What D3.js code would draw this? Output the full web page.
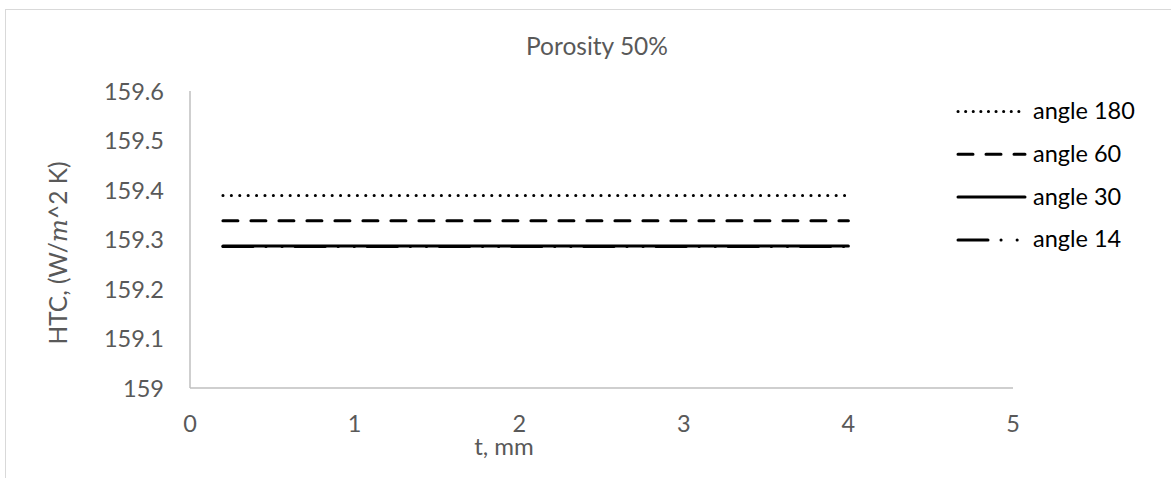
<!DOCTYPE html>
<html>
  <head>
    <meta charset="utf-8">
    <script type="text/javascript" src="https://d3js.org/d3.v7.min.js"></script>
    <style>
      body { margin: 0; background: #fff; }
      text { font-family: Lato, "Open Sans", sans-serif; }
    </style>
  </head>
  <body>
    <script type="text/javascript">
      // data
      var thickness = [0.2, 0.4, 0.6, 0.8, 1.0, 1.2, 1.4, 1.6, 1.8, 2.0, 2.2, 2.4, 2.6, 2.8, 3.0, 3.2, 3.4, 3.6, 3.8, 4.0];
      var seriesNames = ["angle 180", "angle 60", "angle 30", "angle 14"];
      var htc180 = [159.389, 159.389, 159.389, 159.389, 159.389, 159.389, 159.389, 159.389, 159.389, 159.389, 159.389, 159.389, 159.389, 159.389, 159.389, 159.389, 159.389, 159.389, 159.389, 159.389];
      var htc60 = [159.338, 159.338, 159.338, 159.338, 159.338, 159.338, 159.338, 159.338, 159.338, 159.338, 159.338, 159.338, 159.338, 159.338, 159.338, 159.338, 159.338, 159.338, 159.338, 159.338];
      var htc30 = [159.287, 159.287, 159.287, 159.287, 159.287, 159.287, 159.287, 159.287, 159.287, 159.287, 159.287, 159.287, 159.287, 159.287, 159.287, 159.287, 159.287, 159.287, 159.287, 159.287];
      var htc14 = [159.286, 159.286, 159.286, 159.286, 159.286, 159.286, 159.286, 159.286, 159.286, 159.286, 159.286, 159.286, 159.286, 159.286, 159.286, 159.286, 159.286, 159.286, 159.286, 159.286];
      var xTicks = [0, 1, 2, 3, 4, 5];
      var yTicks = [159, 159.1, 159.2, 159.3, 159.4, 159.5, 159.6];

      var width = 1171, height = 478;
      var svg = d3.select("body").append("svg")
                  .attr("width", width)
                  .attr("height", height);

      // chart area border (runs off the right and bottom)
      svg.append("rect")
         .attr("x", 5.5).attr("y", 9.5)
         .attr("width", 1200).attr("height", 500)
         .attr("fill", "none")
         .attr("stroke", "#d9d9d9");

      var x = d3.scaleLinear().domain([0, 5]).range([190, 1013]);
      var y = d3.scaleLinear().domain([159, 159.6]).range([388, 91]);

      // axes lines
      svg.append("line")
         .attr("x1", x(0)).attr("x2", x(5))
         .attr("y1", y(159)).attr("y2", y(159))
         .attr("stroke", "#bfbfbf").attr("stroke-width", 1.5);
      svg.append("line")
         .attr("x1", x(0)).attr("x2", x(0))
         .attr("y1", y(159)).attr("y2", y(159.6))
         .attr("stroke", "#bfbfbf").attr("stroke-width", 1.5);

      // tick labels
      svg.append("g").selectAll("text")
         .data(xTicks).enter().append("text")
         .attr("x", d => x(d))
         .attr("y", 432)
         .attr("text-anchor", "middle")
         .attr("fill", "#595959")
         .style("font-size", "23.5px")
         .text(d => d);
      svg.append("g").selectAll("text")
         .data(yTicks).enter().append("text")
         .attr("x", 164)
         .attr("y", d => y(d) + 8.5)
         .attr("text-anchor", "end")
         .attr("fill", "#595959")
         .style("font-size", "23.5px")
         .text(d => d3.format("~g")(d));

      // titles
      svg.append("text")
         .attr("x", 597).attr("y", 55)
         .attr("text-anchor", "middle")
         .attr("fill", "#595959")
         .style("font-size", "24.5px")
         .text("Porosity 50%");
      svg.append("text")
         .attr("x", 504).attr("y", 455)
         .attr("text-anchor", "middle")
         .attr("fill", "#595959")
         .style("font-size", "24px")
         .text("t, mm");
      var yl = svg.append("text")
         .attr("transform", "translate(67,253) rotate(-90)")
         .attr("text-anchor", "middle")
         .attr("fill", "#595959")
         .style("font-size", "24.5px");
      yl.append("tspan").text("HTC, (W/");
      yl.append("tspan").style("font-style", "italic").style("font-family", "'DejaVu Serif', serif").text("m");
      yl.append("tspan").text("^2 K)");

      // series styles
      var dashes = ["0.1 8.3", "15 13", null, "30 13 0.1 16 0.1 13"];
      var seriesData = [htc180, htc60, htc30, htc14];

      var line = d3.line()
                   .x((d, i) => x(thickness[i]))
                   .y(d => y(d));

      svg.append("g").selectAll("path")
         .data(seriesData).enter().append("path")
         .attr("d", line)
         .attr("fill", "none")
         .attr("stroke", "#000")
         .attr("stroke-width", 3)
         .attr("stroke-linecap", "round")
         .attr("stroke-dasharray", (d, i) => dashes[i]);

      // legend
      var legend = svg.append("g").selectAll("g")
         .data(seriesNames).enter().append("g")
         .attr("transform", (d, i) => "translate(0," + (111.5 + i * 42.8) + ")");
      legend.append("line")
         .attr("x1", 958).attr("x2", 1025)
         .attr("y1", 0).attr("y2", 0)
         .attr("stroke", "#000")
         .attr("stroke-width", 3)
         .attr("stroke-linecap", "round")
         .attr("stroke-dasharray", (d, i) => i === 0 ? "0.1 7.5" : dashes[i]);
      legend.append("text")
         .attr("x", 1033).attr("y", 7.5)
         .attr("fill", "#000")
         .style("font-size", "23.5px")
         .text(d => d);
    </script>
  </body>
</html>
